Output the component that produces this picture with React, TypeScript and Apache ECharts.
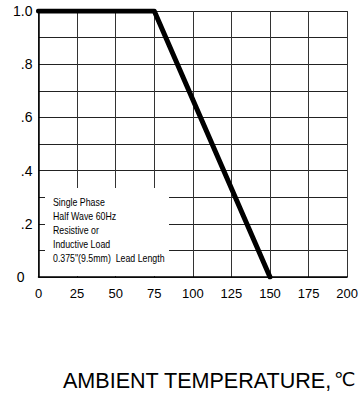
import React, { useEffect, useRef } from "react";
import * as echarts from "echarts";

const temps = [0, 75, 150];
const current = [1.0, 1.0, 0];
const yLabels: Record<number, string> = { 0: "0", 2: ".2", 4: ".4", 6: ".6", 8: ".8", 10: "1.0" };
const noteLines = [
  "Single Phase",
  "Half Wave 60Hz",
  "Resistive or",
  "Inductive Load",
  "0.375\"(9.5mm)  Lead Length",
];
const xTitle = "AMBIENT TEMPERATURE,";

export default function App() {
  const ref = useRef<HTMLDivElement>(null);
  useEffect(() => {
    const chart = echarts.init(ref.current!, null, { renderer: "svg" });
    const sans = "'Liberation Sans', Arial, sans-serif";
    chart.setOption({
      animation: false,
      backgroundColor: "#ffffff",
      grid: { left: 38.5, right: 13, top: 11, bottom: 117 },
      xAxis: {
        type: "value",
        min: 0,
        max: 200,
        interval: 25,
        axisLine: { show: true, lineStyle: { color: "#000", width: 1.5 } },
        axisTick: { show: false },
        splitLine: { show: true, lineStyle: { color: "#333", width: 1 } },
        axisLabel: {
          color: "#000",
          fontSize: 13,
          fontFamily: sans,
          margin: 10,
          showMaxLabel: true,
          showMinLabel: true,
        },
      },
      yAxis: {
        type: "value",
        min: 0,
        max: 1,
        interval: 0.1,
        axisLine: { show: true, lineStyle: { color: "#000", width: 1.5 } },
        axisTick: { show: false },
        splitLine: { show: true, lineStyle: { color: "#222", width: 1 } },
        axisLabel: {
          color: "#000",
          fontSize: 14,
          fontFamily: sans,
          margin: 6,
          formatter: (v: number) => {
            const k = Math.round(v * 10);
            const s = yLabels[k];
            if (s === undefined) return "";
            return k === 0 ? "{z|0}" : s;
          },
          rich: { z: { fontSize: 14, color: "#000", padding: [0, 8, 0, 0] } },
        },
      },
      graphic: [
        { type: "rect", z: 50, shape: { x: 45, y: 188, width: 124, height: 88 }, style: { fill: "#fff" } },
        ...noteLines.map((t, i) => ({
          type: "text",
          z: 51,
          x: 53,
          y: 197 + i * 14.1,
          scaleX: 0.88,
          style: { text: t, fontSize: 10, fill: "#000", fontFamily: sans },
        })),
        {
          type: "text",
          z: 51,
          x: 63,
          y: 369,
          scaleX: 0.98,
          style: { text: xTitle, fontSize: 22, fill: "#000", fontFamily: sans },
        },
        {
          type: "text",
          z: 51,
          x: 334,
          y: 369,
          style: { text: "℃", fontSize: 19, fill: "#000", fontFamily: "'DejaVu Sans', sans-serif" },
        },
      ],
      series: [
        {
          type: "line",
          data: temps.map((t, i) => [t, current[i]]),
          symbol: "none",
          z: 60,
          lineStyle: { color: "#000", width: 5, cap: "round", join: "round" },
        },
      ],
    });
    return () => chart.dispose();
  }, []);
  return <div ref={ref} style={{ position: "absolute", left: 0, top: 0, width: 361, height: 394 }} />;
}
